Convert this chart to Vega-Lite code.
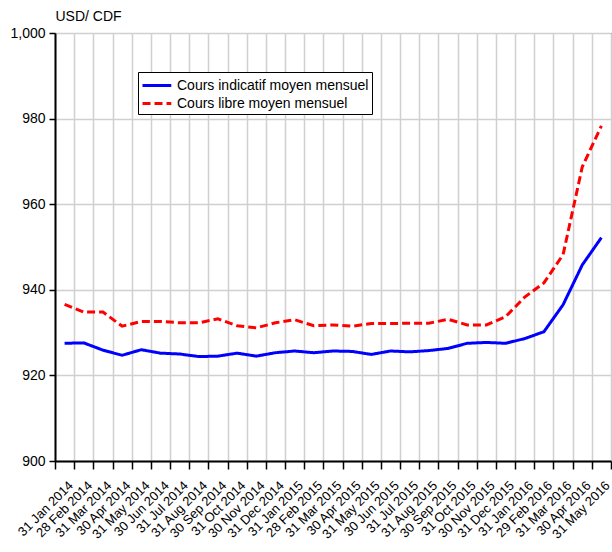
{
  "$schema": "https://vega.github.io/schema/vega-lite/v6.json",
  "autosize": {"type": "none"},
  "padding": {"left": 55, "top": 33, "right": 1, "bottom": 91},
  "width": 556,
  "height": 428,
  "config": {
    "font": "Liberation Sans",
    "view": {"stroke": "black", "strokeWidth": 1},
    "axis": {"labelColor": "black", "titleColor": "black", "domainColor": "black", "tickColor": "black", "gridColor": "#d0d0d0", "gridWidth": 1.5},
    "legend": {
      "title": null,
      "orient": "none",
      "legendX": 83,
      "legendY": 39,
      "strokeColor": "black",
      "fillColor": "white",
      "padding": 3,
      "rowPadding": 0,
      "symbolType": "M-1.0,0H2.2",
      "symbolSize": 324,
      "symbolStrokeWidth": 3,
      "labelFontSize": 14,
      "labelOffset": 15,
      "labelLimit": 0,
      "labelColor": "black"
    }
  },
  "data": {
    "values": [
      {"date": "31 Jan 2014", "series": "Cours indicatif moyen mensuel", "value": 927.5},
      {"date": "28 Feb 2014", "series": "Cours indicatif moyen mensuel", "value": 927.6},
      {"date": "31 Mar 2014", "series": "Cours indicatif moyen mensuel", "value": 925.9},
      {"date": "30 Apr 2014", "series": "Cours indicatif moyen mensuel", "value": 924.7},
      {"date": "31 May 2014", "series": "Cours indicatif moyen mensuel", "value": 926.0},
      {"date": "30 Jun 2014", "series": "Cours indicatif moyen mensuel", "value": 925.2},
      {"date": "31 Jul 2014", "series": "Cours indicatif moyen mensuel", "value": 925.0},
      {"date": "31 Aug 2014", "series": "Cours indicatif moyen mensuel", "value": 924.4},
      {"date": "30 Sep 2014", "series": "Cours indicatif moyen mensuel", "value": 924.5},
      {"date": "31 Oct 2014", "series": "Cours indicatif moyen mensuel", "value": 925.2},
      {"date": "30 Nov 2014", "series": "Cours indicatif moyen mensuel", "value": 924.5},
      {"date": "31 Dec 2014", "series": "Cours indicatif moyen mensuel", "value": 925.3},
      {"date": "31 Jan 2015", "series": "Cours indicatif moyen mensuel", "value": 925.7},
      {"date": "28 Feb 2015", "series": "Cours indicatif moyen mensuel", "value": 925.3},
      {"date": "31 Mar 2015", "series": "Cours indicatif moyen mensuel", "value": 925.7},
      {"date": "30 Apr 2015", "series": "Cours indicatif moyen mensuel", "value": 925.6},
      {"date": "31 May 2015", "series": "Cours indicatif moyen mensuel", "value": 924.9},
      {"date": "30 Jun 2015", "series": "Cours indicatif moyen mensuel", "value": 925.7},
      {"date": "31 Jul 2015", "series": "Cours indicatif moyen mensuel", "value": 925.5},
      {"date": "31 Aug 2015", "series": "Cours indicatif moyen mensuel", "value": 925.8},
      {"date": "30 Sep 2015", "series": "Cours indicatif moyen mensuel", "value": 926.3},
      {"date": "31 Oct 2015", "series": "Cours indicatif moyen mensuel", "value": 927.5},
      {"date": "30 Nov 2015", "series": "Cours indicatif moyen mensuel", "value": 927.7},
      {"date": "31 Dec 2015", "series": "Cours indicatif moyen mensuel", "value": 927.5},
      {"date": "31 Jan 2016", "series": "Cours indicatif moyen mensuel", "value": 928.6},
      {"date": "29 Feb 2016", "series": "Cours indicatif moyen mensuel", "value": 930.2},
      {"date": "31 Mar 2016", "series": "Cours indicatif moyen mensuel", "value": 936.5},
      {"date": "30 Apr 2016", "series": "Cours indicatif moyen mensuel", "value": 945.8},
      {"date": "31 May 2016", "series": "Cours indicatif moyen mensuel", "value": 952.2},
      {"date": "31 Jan 2014", "series": "Cours libre moyen mensuel", "value": 936.6},
      {"date": "28 Feb 2014", "series": "Cours libre moyen mensuel", "value": 934.8},
      {"date": "31 Mar 2014", "series": "Cours libre moyen mensuel", "value": 934.8},
      {"date": "30 Apr 2014", "series": "Cours libre moyen mensuel", "value": 931.5},
      {"date": "31 May 2014", "series": "Cours libre moyen mensuel", "value": 932.6},
      {"date": "30 Jun 2014", "series": "Cours libre moyen mensuel", "value": 932.6},
      {"date": "31 Jul 2014", "series": "Cours libre moyen mensuel", "value": 932.3},
      {"date": "31 Aug 2014", "series": "Cours libre moyen mensuel", "value": 932.3},
      {"date": "30 Sep 2014", "series": "Cours libre moyen mensuel", "value": 933.2},
      {"date": "31 Oct 2014", "series": "Cours libre moyen mensuel", "value": 931.6},
      {"date": "30 Nov 2014", "series": "Cours libre moyen mensuel", "value": 931.1},
      {"date": "31 Dec 2014", "series": "Cours libre moyen mensuel", "value": 932.3},
      {"date": "31 Jan 2015", "series": "Cours libre moyen mensuel", "value": 933.0},
      {"date": "28 Feb 2015", "series": "Cours libre moyen mensuel", "value": 931.6},
      {"date": "31 Mar 2015", "series": "Cours libre moyen mensuel", "value": 931.8},
      {"date": "30 Apr 2015", "series": "Cours libre moyen mensuel", "value": 931.5},
      {"date": "31 May 2015", "series": "Cours libre moyen mensuel", "value": 932.1},
      {"date": "30 Jun 2015", "series": "Cours libre moyen mensuel", "value": 932.1},
      {"date": "31 Jul 2015", "series": "Cours libre moyen mensuel", "value": 932.2},
      {"date": "31 Aug 2015", "series": "Cours libre moyen mensuel", "value": 932.2},
      {"date": "30 Sep 2015", "series": "Cours libre moyen mensuel", "value": 933.1},
      {"date": "31 Oct 2015", "series": "Cours libre moyen mensuel", "value": 931.8},
      {"date": "30 Nov 2015", "series": "Cours libre moyen mensuel", "value": 931.8},
      {"date": "31 Dec 2015", "series": "Cours libre moyen mensuel", "value": 933.7},
      {"date": "31 Jan 2016", "series": "Cours libre moyen mensuel", "value": 938.3},
      {"date": "29 Feb 2016", "series": "Cours libre moyen mensuel", "value": 941.6},
      {"date": "31 Mar 2016", "series": "Cours libre moyen mensuel", "value": 948.2},
      {"date": "30 Apr 2016", "series": "Cours libre moyen mensuel", "value": 968.7},
      {"date": "31 May 2016", "series": "Cours libre moyen mensuel", "value": 978.3}
    ]
  },
  "mark": {"type": "line", "strokeWidth": 3},
  "encoding": {
    "x": {
      "field": "date",
      "type": "ordinal",
      "sort": null,
      "bandPosition": 0.5,
      "scale": {"type": "band", "paddingInner": 0, "paddingOuter": 0},
      "axis": {
        "title": null,
        "tickBand": "extent",
        "labelAngle": -45,
        "labelAlign": "right",
        "labelBaseline": "middle",
        "labelOffset": 6,
        "labelPadding": 14,
        "labelFontSize": 13,
        "labelOverlap": false,
        "labelBound": false,
        "labelFlush": false,
        "tickSize": 8,
        "tickWidth": 1.5,
        "domainWidth": 2,
        "grid": true
      }
    },
    "y": {
      "field": "value",
      "type": "quantitative",
      "scale": {"domain": [900, 1000], "nice": false, "zero": false},
      "axis": {
        "title": "USD/ CDF",
        "titleAngle": 0,
        "titleAlign": "left",
        "titleBaseline": "alphabetic",
        "titleX": 0,
        "titleY": -13,
        "titleFontSize": 14,
        "titleFontWeight": "normal",
        "values": [900, 920, 940, 960, 980, 1000],
        "format": ",.0f",
        "labelFontSize": 14,
        "labelPadding": 4,
        "tickSize": 6,
        "tickWidth": 1.5,
        "domainWidth": 2,
        "grid": true
      }
    },
    "color": {
      "field": "series",
      "type": "nominal",
      "scale": {"domain": ["Cours indicatif moyen mensuel", "Cours libre moyen mensuel"], "range": ["#0000ff", "#ff0000"]},
      "legend": {"title": null}
    },
    "strokeDash": {
      "field": "series",
      "type": "nominal",
      "scale": {"domain": ["Cours indicatif moyen mensuel", "Cours libre moyen mensuel"], "range": [[1, 0], [8, 4]]},
      "legend": {"title": null}
    }
  }
}
